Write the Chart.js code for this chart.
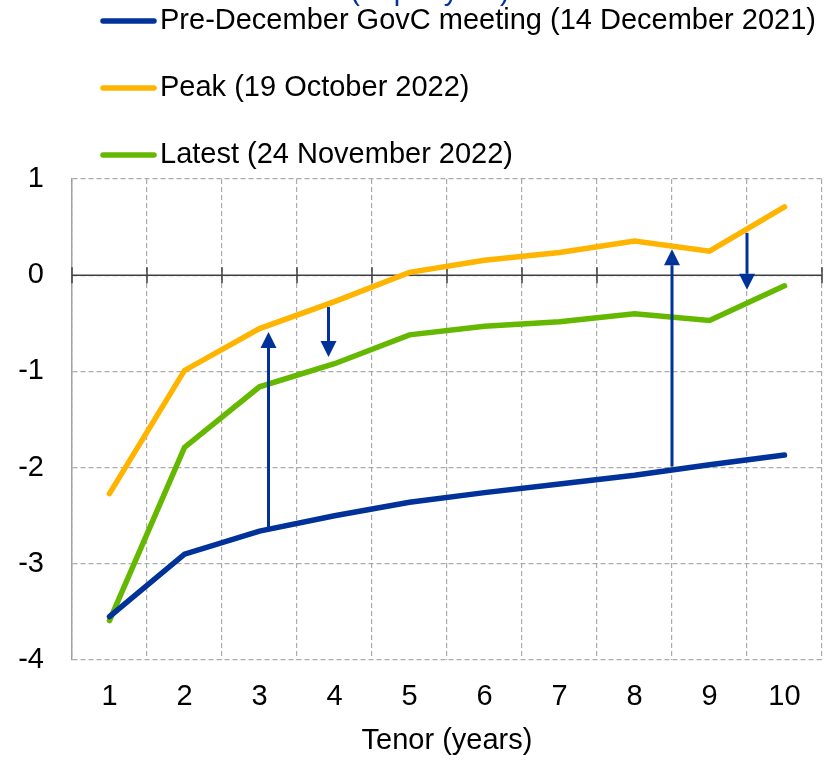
<!DOCTYPE html>
<html>
<head>
<meta charset="utf-8">
<script src="https://cdn.jsdelivr.net/npm/chart.js@4.4.1/dist/chart.umd.min.js"></script>
<style>
    html, body { margin: 0; padding: 0; background: #fff; }
</style>
</head>
<body>
<canvas id="curveChart" width="827" height="760"></canvas>
<script>
// Tenors on the x axis (years)
const tenors = ['1', '2', '3', '4', '5', '6', '7', '8', '9', '10'];

// Curves (% per year)
const preDecember = [-3.55, -2.90, -2.66, -2.50, -2.36, -2.26, -2.17, -2.08, -1.97, -1.87];
const peak = [-2.27, -0.99, -0.555, -0.275, 0.03, 0.155, 0.236, 0.355, 0.25, 0.71];
const latest = [-3.59, -1.79, -1.16, -0.92, -0.62, -0.53, -0.485, -0.40, -0.47, -0.11];

const seriesNames = [
    'Pre-December GovC meeting (14 December 2021)',
    'Peak (19 October 2022)',
    'Latest (24 November 2022)'
];

// Arrow annotations: x as category index, y from / to in axis units
const arrowX = [2.12, 2.92, 7.5, 8.5];
const arrowFrom = [-2.63, -0.33, -1.99, 0.44];
const arrowTo = [-0.59, -0.85, 0.27, -0.15];

const yTicks = [-4, -3, -2, -1, 0, 1];

const FONT = 'Liberation Sans, Arial, sans-serif';
const FONT_SIZE = 29;
const ecbBlue = '#003299';
const gridColor = '#ababab';

// Zero line with small tick marks, drawn under the lines
const zeroLinePlugin = {
    id: 'zeroLine',
    beforeDatasetsDraw(chart) {
        const { ctx, chartArea, scales: { x, y } } = chart;
        const y0 = y.getPixelForValue(0);
        ctx.save();
        ctx.strokeStyle = '#404040';
        ctx.lineWidth = 1.5;
        ctx.beginPath();
        ctx.moveTo(chartArea.left, y0);
        ctx.lineTo(chartArea.right, y0);
        for (let i = 0; i <= tenors.length; i++) {
            const px = x.getPixelForValue(i - 0.5);
            ctx.moveTo(px, y0 - 8);
            ctx.lineTo(px, y0 + 8);
        }
        ctx.stroke();
        ctx.restore();
    }
};

// Arrows between the curves
const arrowPlugin = {
    id: 'arrows',
    afterDatasetsDraw(chart) {
        const { ctx, scales: { x, y } } = chart;
        ctx.save();
        ctx.strokeStyle = ecbBlue;
        ctx.fillStyle = ecbBlue;
        arrowX.forEach((ax, i) => {
            const px = x.getPixelForValue(ax);
            const y1 = y.getPixelForValue(arrowFrom[i]);
            const y2 = y.getPixelForValue(arrowTo[i]);
            const dir = y2 < y1 ? 1 : -1;
            const head = 16;
            ctx.lineWidth = 3;
            ctx.beginPath();
            ctx.moveTo(px, y1);
            ctx.lineTo(px, y2 + dir * head);
            ctx.stroke();
            ctx.beginPath();
            ctx.moveTo(px, y2);
            ctx.lineTo(px - 8, y2 + dir * head);
            ctx.lineTo(px + 8, y2 + dir * head);
            ctx.closePath();
            ctx.fill();
        });
        ctx.restore();
    }
};

// Legend rows and the clipped unit label at the very top
const legendPlugin = {
    id: 'topLegend',
    afterDraw(chart) {
        const { ctx } = chart;
        ctx.save();
        ctx.font = FONT_SIZE + 'px ' + FONT;
        ctx.fillStyle = ecbBlue;
        ctx.textAlign = 'center';
        ctx.textBaseline = 'alphabetic';
        ctx.fillText('(% per year)', 430, 0);

        chart.data.datasets.forEach((ds, i) => {
            const cy = 21 + i * 67;
            ctx.strokeStyle = ds.borderColor;
            ctx.lineWidth = 5.5;
            ctx.lineCap = 'round';
            ctx.beginPath();
            ctx.moveTo(103, cy);
            ctx.lineTo(154, cy);
            ctx.stroke();
            ctx.fillStyle = '#000';
            ctx.textAlign = 'left';
            ctx.textBaseline = 'middle';
            ctx.fillText(ds.label, 160, cy);
        });
        ctx.restore();
    }
};

const lineStyle = {
    borderWidth: 5.5,
    pointRadius: 0,
    tension: 0,
    fill: false,
    borderCapStyle: 'round'
};

new Chart(document.getElementById('curveChart'), {
    type: 'line',
    data: {
        labels: tenors,
        datasets: [
            { label: seriesNames[0], data: preDecember, borderColor: ecbBlue, ...lineStyle },
            { label: seriesNames[1], data: peak, borderColor: '#FFB400', ...lineStyle },
            { label: seriesNames[2], data: latest, borderColor: '#65B800', ...lineStyle }
        ]
    },
    options: {
        responsive: false,
        animation: false,
        layout: { padding: { top: 179, left: 19, right: 5, bottom: 0 } },
        plugins: {
            legend: { display: false },
            tooltip: { enabled: false },
            title: { display: false }
        },
        scales: {
            x: {
                offset: true,
                afterFit: axis => { axis.height = 100; },
                grid: { offset: true, color: gridColor, lineWidth: 1.2, drawTicks: false },
                border: { display: false, dash: [5, 3] },
                ticks: { color: '#000', font: { family: FONT, size: FONT_SIZE }, padding: 20, maxRotation: 0 },
                title: {
                    display: true,
                    text: 'Tenor (years)',
                    color: '#000',
                    font: { family: FONT, size: FONT_SIZE },
                    padding: { top: 10, bottom: 2 }
                }
            },
            y: {
                min: yTicks[0],
                max: yTicks[yTicks.length - 1],
                afterBuildTicks: axis => { axis.ticks = yTicks.map(v => ({ value: v })); },
                afterFit: axis => { axis.width = 53; },
                grid: { color: gridColor, lineWidth: 1.2, drawTicks: false },
                border: { display: true, color: '#a0a0a0', width: 1.5, dash: [5, 3] },
                ticks: { color: '#000', font: { family: FONT, size: FONT_SIZE }, padding: 28 }
            }
        }
    },
    plugins: [zeroLinePlugin, arrowPlugin, legendPlugin]
});
</script>
</body>
</html>
